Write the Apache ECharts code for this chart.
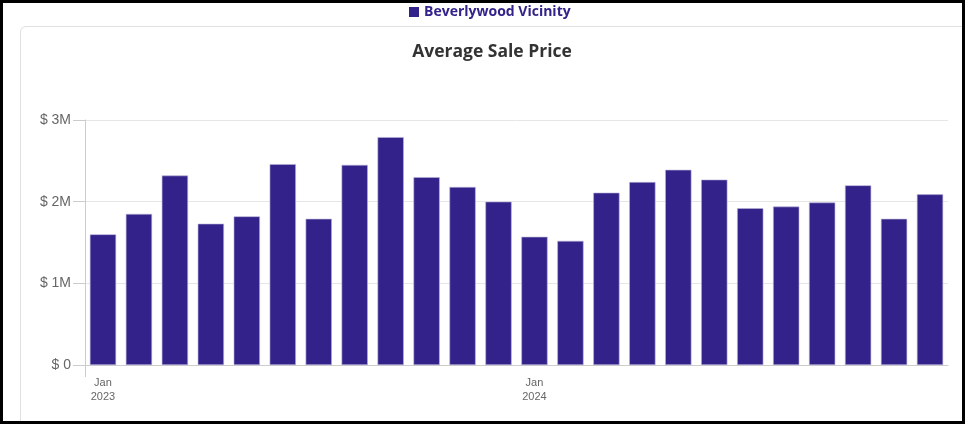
<!DOCTYPE html>
<html>
<head>
<meta charset="utf-8">
<script src="https://cdn.jsdelivr.net/npm/echarts@6/dist/echarts.min.js"></script>
<style>
  html, body { margin: 0; padding: 0; background: #fff; }
  #wrap { position: relative; width: 965px; height: 424px; overflow: hidden; }
  #frame { position: absolute; left: 0; top: 0; width: 965px; height: 424px; box-sizing: border-box; border: 3px solid #000; pointer-events: none; z-index: 3; }
  #card { position: absolute; left: 20px; top: 26px; width: 990px; height: 450px; border: 1px solid #e0e0e0; border-radius: 6px; z-index: 0; }
  #chart { position: absolute; left: 0; top: 0; width: 965px; height: 424px; z-index: 1; }
</style>
</head>
<body>
<div id="wrap">
  <div id="card"></div>
  <div id="chart"></div>
  <div id="frame"></div>
</div>
<script>
  const seriesName = 'Beverlywood Vicinity';
  const months = ['Jan 2023', 'Feb 2023', 'Mar 2023', 'Apr 2023', 'May 2023', 'Jun 2023',
    'Jul 2023', 'Aug 2023', 'Sep 2023', 'Oct 2023', 'Nov 2023', 'Dec 2023',
    'Jan 2024', 'Feb 2024', 'Mar 2024', 'Apr 2024', 'May 2024', 'Jun 2024',
    'Jul 2024', 'Aug 2024', 'Sep 2024', 'Oct 2024', 'Nov 2024', 'Dec 2024'];
  // average sale price, dollars
  const avgPrice = [1600000, 1850000, 2320000, 1730000, 1820000, 2460000,
    1790000, 2450000, 2790000, 2300000, 2180000, 2000000,
    1570000, 1520000, 2110000, 2240000, 2390000, 2270000,
    1920000, 1940000, 1990000, 2200000, 1790000, 2090000];
  const yTicks = { min: 0, max: 3000000, interval: 1000000 };

  const chart = echarts.init(document.getElementById('chart'));
  chart.setOption({
    animation: false,
    textStyle: { fontFamily: 'Open Sans' },
    title: {
      text: 'Average Sale Price',
      left: 487,
      top: 38,
      textAlign: 'center',
      textStyle: { fontSize: 17.5, fontWeight: 'bold', color: '#333', fontFamily: 'Open Sans' }
    },
    legend: {
      left: 404,
      top: 0,
      icon: 'rect',
      itemWidth: 10,
      itemHeight: 10,
      itemGap: 7,
      itemStyle: { borderWidth: 0 },
      textStyle: { fontSize: 14, fontWeight: 'bold', color: '#33228a', fontFamily: 'Open Sans' },
      data: [seriesName]
    },
    grid: { left: 85, right: 17, top: 120, bottom: 59, containLabel: false },
    xAxis: {
      type: 'category',
      data: months,
      axisLine: { lineStyle: { color: '#ccc' } },
      axisTick: { show: false },
      axisLabel: {
        interval: function (i) { return i % 12 === 0; },
        formatter: function (v) { return v.replace(' ', '\n'); },
        color: '#666',
        fontSize: 11,
        lineHeight: 14,
        margin: 11,
        fontFamily: 'Arial'
      }
    },
    yAxis: {
      type: 'value',
      min: yTicks.min,
      max: yTicks.max,
      interval: yTicks.interval,
      axisLine: { show: true, lineStyle: { color: '#ccc' } },
      axisTick: { show: true, length: 12, lineStyle: { color: '#ccc' } },
      splitLine: { lineStyle: { color: '#e6e6e6' } },
      axisLabel: {
        formatter: function (v) { return v === 0 ? '$ 0' : '$ ' + (v / 1000000) + 'M'; },
        color: '#666',
        fontSize: 14,
        margin: 14,
        fontFamily: 'Arial'
      }
    },
    series: [{
      name: seriesName,
      type: 'bar',
      data: avgPrice,
      barCategoryGap: '27%',
      itemStyle: { color: '#33228a', borderColor: '#b9b3d6', borderWidth: 0.6 }
    }]
  });

  // the single x-axis tick at the start of the first category
  const base = chart.convertToPixel({ gridIndex: 0 }, [0, 0]);
  const step = chart.convertToPixel({ gridIndex: 0 }, [1, 0])[0] - base[0];
  const x0 = Math.round(base[0] - step / 2) + 0.5;
  chart.setOption({
    graphic: [{
      type: 'line',
      shape: { x1: x0, y1: base[1], x2: x0, y2: base[1] + 12 },
      style: { stroke: '#ccc', lineWidth: 1 }
    }]
  });
</script>
</body>
</html>
